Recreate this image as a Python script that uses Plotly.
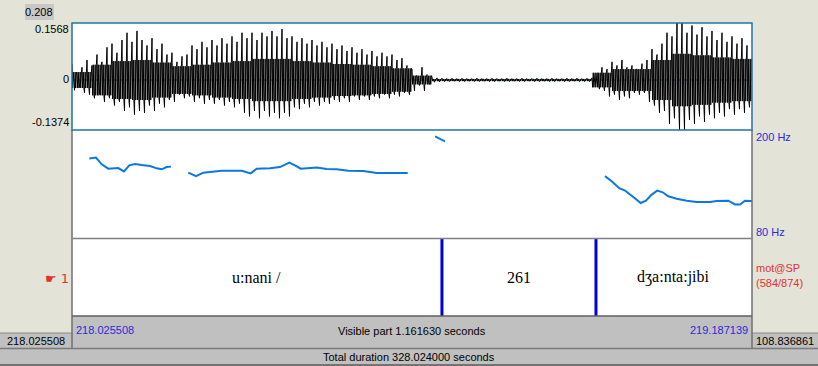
import numpy as np
import plotly.graph_objects as go

W, H = 818, 366
T0, T1 = 218.025508, 219.187139
VISIBLE = "1.161630"
TOTAL = "328.024000"
RIGHT_VAL = "108.836861"
AMP_MAX, AMP_MIN = 0.1568, -0.1374
F_LO, F_HI = 80, 200

# waveform: per-column positive / negative peaks (136 columns across the window)
wave_hi = [0.045, 0.02, 0.035, 0.055, 0.04, 0.07, 0.05, 0.09, 0.10, 0.075,
           0.11, 0.13, 0.105, 0.135, 0.11, 0.095, 0.115, 0.085, 0.10, 0.07,
           0.075, 0.05, 0.065, 0.07, 0.095, 0.085, 0.105, 0.09, 0.11, 0.095,
           0.115, 0.10, 0.12, 0.105, 0.13, 0.115, 0.13, 0.11, 0.13, 0.12,
           0.135, 0.12, 0.14, 0.115, 0.12, 0.105, 0.115, 0.10, 0.11, 0.095,
           0.105, 0.09, 0.10, 0.085, 0.095, 0.08, 0.09, 0.075, 0.085, 0.07,
           0.08, 0.065, 0.075, 0.065, 0.07, 0.055, 0.06, 0.04, 0.03, 0.012,
           0.035, 0.015, 0.008, 0.006, 0.005, 0.004, 0.005, 0.004, 0.005, 0.004,
           0.004, 0.005, 0.004, 0.004, 0.005, 0.004, 0.004, 0.005, 0.004, 0.004,
           0.005, 0.004, 0.004, 0.005, 0.004, 0.004, 0.005, 0.004, 0.004, 0.005,
           0.004, 0.005, 0.004, 0.005, 0.006, 0.02, 0.035, 0.03, 0.05, 0.04,
           0.055, 0.035, 0.04, 0.03, 0.045, 0.055, 0.085, 0.07, 0.10, 0.13,
           0.12, 0.1568, 0.1568, 0.13, 0.15, 0.125, 0.145, 0.12, 0.135, 0.11,
           0.13, 0.105, 0.12, 0.10, 0.115, 0.095]
wave_lo = [-0.028, -0.02, -0.035, -0.04, -0.05, -0.04, -0.06, -0.05, -0.07, -0.06,
           -0.085, -0.075, -0.095, -0.085, -0.09, -0.07, -0.085, -0.065, -0.075, -0.055,
           -0.06, -0.04, -0.05, -0.045, -0.06, -0.05, -0.065, -0.055, -0.065, -0.055,
           -0.07, -0.06, -0.075, -0.065, -0.09, -0.1, -0.085, -0.105, -0.085, -0.1,
           -0.09, -0.105, -0.09, -0.1, -0.075, -0.08, -0.065, -0.075, -0.06, -0.07,
           -0.06, -0.065, -0.055, -0.06, -0.05, -0.06, -0.045, -0.055, -0.045, -0.055,
           -0.045, -0.05, -0.04, -0.05, -0.04, -0.045, -0.035, -0.04, -0.03, -0.015,
           -0.03, -0.012, -0.006, -0.005, -0.004, -0.004, -0.003, -0.004, -0.004, -0.003,
           -0.004, -0.004, -0.003, -0.004, -0.004, -0.003, -0.004, -0.004, -0.003, -0.004,
           -0.004, -0.003, -0.004, -0.004, -0.003, -0.004, -0.004, -0.003, -0.004, -0.004,
           -0.003, -0.004, -0.004, -0.004, -0.005, -0.025, -0.03, -0.045, -0.04, -0.055,
           -0.045, -0.05, -0.035, -0.04, -0.035, -0.06, -0.07, -0.09, -0.085, -0.12,
           -0.105, -0.1374, -0.1374, -0.11, -0.12, -0.1, -0.115, -0.095, -0.105, -0.09,
           -0.1, -0.08, -0.095, -0.08, -0.09, -0.075]
# dense inner oscillation, one value per block of 4 columns
wave_core = [0.022, 0.042, 0.052, 0.055, 0.048, 0.038, 0.042, 0.048, 0.052, 0.058,
             0.058, 0.052, 0.048, 0.044, 0.042, 0.038, 0.032, 0.012, 0.003, 0.003,
             0.003, 0.003, 0.003, 0.003, 0.003, 0.003, 0.02, 0.03, 0.03, 0.055,
             0.072, 0.068, 0.062, 0.058]

# pitch contours (seconds after T0, Hz)
pitch_dt = [
    [0.0296, 0.0410, 0.0507, 0.0620, 0.0791, 0.0888, 0.0979, 0.1076, 0.1191,
     0.1332, 0.1447, 0.1532, 0.1618, 0.1691],
    [0.1987, 0.2118, 0.2243, 0.2414, 0.2557, 0.2899, 0.3053, 0.3155, 0.3382,
     0.3553, 0.3712, 0.3809, 0.3907, 0.4180, 0.4351, 0.4522, 0.4720, 0.4976,
     0.5205, 0.5735],
    [0.6201, 0.6286, 0.6372],
    [0.9105, 0.9219, 0.9349, 0.9447, 0.9588, 0.9715, 0.9805, 0.9903, 0.9998,
     1.0091, 1.0186, 1.0330, 1.0501, 1.0671, 1.0899, 1.1013, 1.1211, 1.1326,
     1.1411, 1.1497, 1.1616],
]
pitch_hz = [
    [168.3, 169.4, 161.9, 157.0, 157.7, 154.0, 160.7, 162.2, 161.1, 160.0,
     157.4, 156.3, 158.8, 159.3],
    [152.6, 148.7, 152.6, 153.7, 154.8, 154.8, 151.8, 157.0, 157.4, 158.8,
     163.8, 160.7, 157.0, 158.2, 156.6, 156.3, 154.8, 154.4, 152.1, 152.1],
    [192.9, 189.9, 187.3],
    [148.7, 143.1, 135.3, 132.7, 125.6, 118.9, 121.5, 128.2, 132.7, 130.8,
     126.3, 123.7, 121.5, 120.0, 120.0, 121.2, 121.5, 117.3, 117.3, 121.5, 121.2],
]

boundaries = [218.6575, 218.9206]
interval_labels = ["u:nani /", "261", "dʒa:nta:jibi"]

BEIGE = "#e3e3d8"
GREY = "#c0c0c0"
BLUE_TXT = "#2b2bd6"
RED_TXT = "#e03434"
PITCH_C = "#0a78e0"
BOUND_C = "#0000d8"


def px(x):
    return x / W


def py(y):
    return 1 - y / H


fig = go.Figure()

# waveform trace: each column = main positive peak, dense core, main negative peak
N = len(wave_hi)
col_t = np.linspace(T0, T1, N + 1)[:-1]
d = (T1 - T0) / N
wx, wy = [], []
for i in range(N):
    c = wave_core[i // 4]
    vals = [wave_hi[i], -c, c, -c, wave_lo[i], c, -c, c]
    for k, v in enumerate(vals):
        wx.append(col_t[i] + d * k / len(vals))
        wy.append(v)
fig.add_trace(go.Scatter(x=[T0, T1], y=[0, 0], mode="lines",
                         line=dict(color="#2a8ab0", width=1, dash="dot"),
                         xaxis="x", yaxis="y", hoverinfo="skip"))
fig.add_trace(go.Scatter(x=wx, y=wy, mode="lines",
                         line=dict(color="black", width=1),
                         xaxis="x", yaxis="y", hoverinfo="skip"))

# pitch
for dts, hz in zip(pitch_dt, pitch_hz):
    fig.add_trace(go.Scatter(x=[T0 + t for t in dts], y=hz, mode="lines",
                             line=dict(color=PITCH_C, width=2),
                             xaxis="x2", yaxis="y2", hoverinfo="skip"))

# textgrid boundaries
for b in boundaries:
    fig.add_trace(go.Scatter(x=[b, b], y=[0, 1], mode="lines",
                             line=dict(color=BOUND_C, width=3),
                             xaxis="x3", yaxis="y3", hoverinfo="skip"))

edges = [T0] + boundaries + [T1]
annotations = []
for i, lab in enumerate(interval_labels):
    annotations.append(dict(x=(edges[i] + edges[i + 1]) / 2, y=0.5, xref="x3", yref="y3",
                            text=lab, showarrow=False,
                            font=dict(family="Liberation Serif", size=16, color="black")))


def txt(x, y, s, color="black", size=11, xanchor="left", family="Liberation Sans"):
    annotations.append(dict(x=px(x), y=py(y), xref="paper", yref="paper", text=s,
                            showarrow=False, xanchor=xanchor, yanchor="middle",
                            font=dict(family=family, size=size, color=color)))


txt(39, 12, "0.208", xanchor="center")
txt(71, 29, "0.1568", xanchor="right")
txt(71, 79, "0", xanchor="right")
txt(71, 122, "-0.1374", xanchor="right")
txt(754, 137, "200 Hz", color=BLUE_TXT)
txt(754, 232, "80 Hz", color=BLUE_TXT)
txt(71, 278, "☛ 1", color=RED_TXT, size=13, xanchor="right", family="DejaVu Sans")
txt(754, 268, "mot@SP", color=RED_TXT)
txt(754, 283, "(584/874)", color=RED_TXT)
txt(74, 330, f"{T0:.6f}", color=BLUE_TXT)
txt(750, 330, f"{T1:.6f}", color=BLUE_TXT, xanchor="right")
txt(412, 331, f"Visible part {VISIBLE} seconds", xanchor="center")
txt(36, 341, f"{T0:.6f}", xanchor="center")
txt(785, 341, RIGHT_VAL, xanchor="center")
txt(409, 357, f"Total duration {TOTAL} seconds", xanchor="center")

shapes = []


def rect(x0, y0, x1, y1, fill=None, line=None, lw=1):
    shapes.append(dict(type="rect", xref="paper", yref="paper",
                       x0=px(x0), x1=px(x1), y0=py(y1), y1=py(y0),
                       fillcolor=fill if fill else "rgba(0,0,0,0)",
                       line=dict(color=line if line else "rgba(0,0,0,0)", width=lw if line else 0),
                       layer="below" if fill else "above"))


def hline(x0, x1, y, color, lw=1):
    shapes.append(dict(type="line", xref="paper", yref="paper", x0=px(x0), x1=px(x1),
                       y0=py(y), y1=py(y), line=dict(color=color, width=lw)))


def vline(x, y0, y1, color, lw=1):
    shapes.append(dict(type="line", xref="paper", yref="paper", x0=px(x), x1=px(x),
                       y0=py(y0), y1=py(y1), line=dict(color=color, width=lw)))


rect(72, 316, 752, 348, fill=GREY)
rect(0, 348, 818, 366, fill=GREY)
rect(0, 333, 72, 349, fill=GREY)
rect(752, 333, 818, 349, fill=GREY)
rect(25, 4, 54, 20, fill="#c8c8c8")
hline(0, 818, 348.5, "#7a7a7a", 1.5)
hline(0, 818, 365, "#5a5a5a", 1.5)
hline(0, 72, 333, "#8a8a8a", 1)
hline(752, 818, 333, "#8a8a8a", 1)
vline(72, 130, 348, "#707070", 1.5)
vline(752, 130, 348, "#707070", 1.5)
hline(72, 752, 238.5, "#808080", 1.5)
hline(72, 752, 316, "#606060", 1.5)
rect(72, 23, 752, 130, line="#1f74a6", lw=1.5)

dom_x = [px(72), px(752)]
ax_common = dict(showgrid=False, zeroline=False, showticklabels=False, ticks="",
                 showline=False, fixedrange=True)

fig.update_layout(
    width=W, height=H,
    margin=dict(l=0, r=0, t=0, b=0),
    paper_bgcolor=BEIGE, plot_bgcolor="white",
    showlegend=False,
    xaxis=dict(domain=dom_x, range=[T0, T1], anchor="y", **ax_common),
    xaxis2=dict(domain=dom_x, range=[T0, T1], anchor="y2", **ax_common),
    xaxis3=dict(domain=dom_x, range=[T0, T1], anchor="y3", **ax_common),
    yaxis=dict(domain=[py(130), py(23)], range=[AMP_MIN, AMP_MAX], anchor="x", **ax_common),
    yaxis2=dict(domain=[py(238), py(130)], range=[F_LO, F_HI], anchor="x2", **ax_common),
    yaxis3=dict(domain=[py(316), py(238)], range=[0, 1], anchor="x3", **ax_common),
    annotations=annotations,
    shapes=shapes,
)

fig.write_html("out.html", config={"displayModeBar": False, "staticPlot": True},
               post_script="document.body.style.margin='0px';"
                           "document.body.style.overflow='hidden';")
